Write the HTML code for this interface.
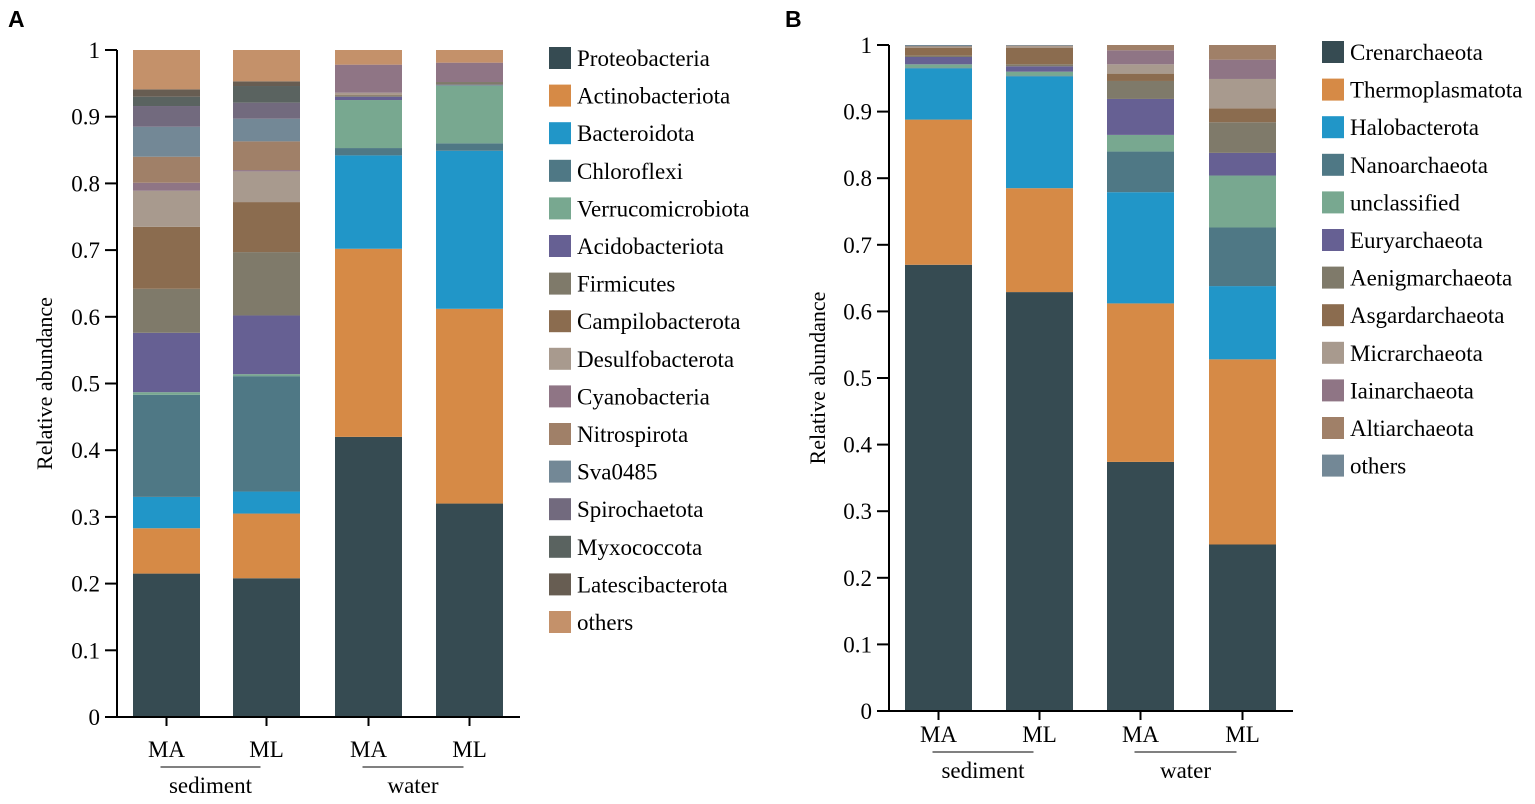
<!DOCTYPE html>
<html><head><meta charset="utf-8"><style>
html,body{margin:0;padding:0;background:#fff;}
svg{display:block;}
svg text{font-family:"Liberation Serif","DejaVu Serif",serif;}
svg text.lab{font-family:"Liberation Sans",sans-serif;}
</style></head><body>
<svg id="chart" width="1535" height="804" viewBox="0 0 1535 804" xmlns="http://www.w3.org/2000/svg">
<text class="lab" x="8" y="27" font-weight="bold" font-size="23">A</text>
<text class="lab" x="785" y="27" font-weight="bold" font-size="23">B</text>
<g id="pa"></g>
<g id="pb"></g>
</svg>
<script>
const samples = ["MA","ML","MA","ML"];
const groups = ["sediment","water"];
const ticks = ["0","0.1","0.2","0.3","0.4","0.5","0.6","0.7","0.8","0.9","1"];
const tickVals = [0,0.1,0.2,0.3,0.4,0.5,0.6,0.7,0.8,0.9,1];

const taxaA = ["Proteobacteria","Actinobacteriota","Bacteroidota","Chloroflexi","Verrucomicrobiota","Acidobacteriota","Firmicutes","Campilobacterota","Desulfobacterota","Cyanobacteria","Nitrospirota","Sva0485","Spirochaetota","Myxococcota","Latescibacterota","others"];
const colorsA = ["#364b52","#d68a46","#2196c8","#4f7885","#78a890","#666093","#7f7a6a","#8b6c4f","#a89a8e","#8f7585","#a08068","#738896","#726a7e","#5a6360","#675d52","#c4916a"];
const sedMA_A = [0.215,0.068,0.047,0.153,0.004,0.089,0.066,0.093,0.054,0.012,0.039,0.045,0.031,0.014,0.011,0.059];
const sedML_A = [0.208,0.097,0.033,0.173,0.003,0.088,0.095,0.075,0.046,0.002,0.043,0.034,0.024,0.025,0.007,0.047];
const watMA_A = [0.420,0.282,0.140,0.011,0.072,0.005,0.002,0.001,0.003,0.042,0,0,0,0,0,0.022];
const watML_A = [0.320,0.292,0.237,0.011,0.087,0.001,0.004,0,0,0.029,0,0,0,0,0,0.019];

const taxaB = ["Crenarchaeota","Thermoplasmatota","Halobacterota","Nanoarchaeota","unclassified","Euryarchaeota","Aenigmarchaeota","Asgardarchaeota","Micrarchaeota","Iainarchaeota","Altiarchaeota","others"];
const colorsB = ["#364b52","#d68a46","#2196c8","#4f7885","#78a890","#666093","#7f7a6a","#8b6c4f","#a89a8e","#8f7585","#a08068","#738896"];
const sedMA_B = [0.670,0.218,0.077,0.001,0.005,0.011,0.002,0.012,0.001,0,0.001,0.002];
const sedML_B = [0.629,0.156,0.168,0.001,0.006,0.008,0.003,0.025,0.002,0,0.001,0.001];
const watMA_B = [0.374,0.238,0.167,0.061,0.025,0.054,0.027,0.011,0.014,0.021,0.008,0];
const watML_B = [0.250,0.278,0.110,0.088,0.078,0.034,0.046,0.021,0.044,0.029,0.022,0];

const NS="http://www.w3.org/2000/svg";
function mk(parent,tag,attrs,txt){const e=document.createElementNS(NS,tag);for(const k in attrs)e.setAttribute(k,attrs[k]);if(txt!==undefined)e.textContent=txt;parent.appendChild(e);return e;}
const FF='Liberation Serif, serif';

function panel(g,cfg,taxa,colors,series){
  const y=v=>cfg.y0-v*(cfg.y0-cfg.y1);
  series.forEach((vals,i)=>{
    let acc=0;const bx=cfg.bx[i];
    vals.forEach((v,j)=>{
      if(v<=0)return;
      const r=mk(g,'rect',{x:bx,y:y(acc+v),width:cfg.bw,height:y(acc)-y(acc+v),fill:colors[j]});
      
      
      acc+=v;
    });
  });
  const ya=mk(g,'line',{x1:cfg.ax,y1:y(1),x2:cfg.ax,y2:cfg.y0,stroke:'#000','stroke-width':2});
  
  
  const xa=mk(g,'line',{x1:cfg.ax-12,y1:cfg.y0,x2:cfg.xend,y2:cfg.y0,stroke:'#000','stroke-width':2});
  
  
  tickVals.forEach((t,i)=>{
    if(i>0)mk(g,'line',{x1:cfg.ax-12,y1:y(t),x2:cfg.ax,y2:y(t),stroke:'#000','stroke-width':2});
    const tl=mk(g,'text',{x:cfg.ax-17,y:y(t)+8,'text-anchor':'end','font-size':23,'font-family':FF},ticks[i]);
    
    
  });
  const yt=mk(g,'text',{x:0,y:0,transform:`translate(${cfg.ytx},${(y(0)+y(1))/2}) rotate(-90)`,'text-anchor':'middle','font-size':22,'font-family':FF},'Relative abundance');
  
  
  samples.forEach((s,i)=>{
    const cx=cfg.bx[i]+cfg.bw/2;
    mk(g,'line',{x1:cx,y1:cfg.y0,x2:cx,y2:cfg.y0+9,stroke:'#000','stroke-width':2});
    const lt=mk(g,'text',{x:cx,y:cfg.y0+cfg.lab,'text-anchor':'middle','font-size':23,'font-family':FF},s);
    
    
  });
  groups.forEach((gr,k)=>{
    const x1=cfg.bx[2*k]+cfg.bw/2-6,x2=cfg.bx[2*k+1]+cfg.bw/2-6;
    mk(g,'line',{x1:x1,y1:cfg.y0+cfg.gl,x2:x2,y2:cfg.y0+cfg.gl,stroke:'#000','stroke-width':1});
    const gt=mk(g,'text',{x:(x1+x2)/2,y:cfg.y0+cfg.gt,'text-anchor':'middle','font-size':23,'font-family':FF},gr);
    
    
  });
  taxa.forEach((t,j)=>{
    const ly=cfg.ly+j*37.6;
    const sq=mk(g,'rect',{x:cfg.lx,y:ly-11,width:22,height:22,fill:colors[j]});
    
    
    const tx=mk(g,'text',{x:cfg.lx+28,y:ly+8,'font-size':23,'font-family':FF},t);
    
    
  });
}
panel(document.getElementById('pa'),{y0:717,y1:50,ax:117,xend:520,bx:[133,233,335,436],bw:67,ytx:52,lab:40,gl:50,gt:76,lx:549,ly:58},taxaA,colorsA,[sedMA_A,sedML_A,watMA_A,watML_A]);
panel(document.getElementById('pb'),{y0:711,y1:45,ax:889,xend:1293,bx:[905,1006,1107,1209],bw:67,ytx:825,lab:31,gl:41,gt:67,lx:1322,ly:52},taxaB,colorsB,[sedMA_B,sedML_B,watMA_B,watML_B]);
</script>
</body></html>
